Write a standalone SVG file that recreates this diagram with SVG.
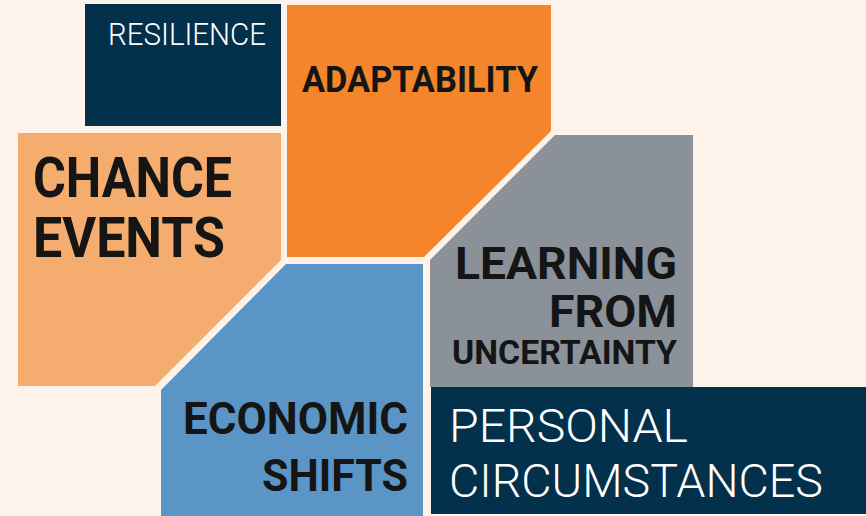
<svg xmlns="http://www.w3.org/2000/svg" width="866" height="516" viewBox="0 0 866 516">
<style>
.b{font-family:Roboto,"Liberation Sans",sans-serif;font-weight:700;fill:#151515}
.l{font-family:Roboto,"Liberation Sans",sans-serif;font-weight:300;fill:#ffffff}
</style>
<rect width="866" height="516" fill="#fdf3ea"/>
<g id="resilience">
<rect x="85" y="4" width="196" height="122" fill="#03304a"/>
<text class="l" x="108" y="45" font-size="31" textLength="158" lengthAdjust="spacingAndGlyphs">RESILIENCE</text>
</g>
<g id="adaptability">
<polygon points="287,5 551,5 551,131 424,257 287,257" fill="#f5852a"/>
<text class="b" x="302" y="92" font-size="36" textLength="236" lengthAdjust="spacingAndGlyphs">ADAPTABILITY</text>
</g>
<g id="chance">
<polygon points="18,133 281,133 281,260 155,386 18,386" fill="#f4ad6e"/>
<text class="b" x="33" y="197" font-size="55" textLength="199" lengthAdjust="spacingAndGlyphs">CHANCE</text>
<text class="b" x="33" y="257" font-size="55" textLength="192" lengthAdjust="spacingAndGlyphs">EVENTS</text>
</g>
<g id="economic">
<polygon points="286,264 423,264 423,516 161,516 161,390" fill="#5b95c6"/>
<text class="b" x="183" y="434" font-size="45" textLength="225" lengthAdjust="spacingAndGlyphs">ECONOMIC</text>
<text class="b" x="262" y="491" font-size="45" textLength="146" lengthAdjust="spacingAndGlyphs">SHIFTS</text>
</g>
<g id="learning">
<polygon points="555,135 693,135 693,387 430,387 430,260" fill="#8a9199"/>
<text class="b" x="455" y="279" font-size="45" textLength="222" lengthAdjust="spacingAndGlyphs">LEARNING</text>
<text class="b" x="549" y="327" font-size="45" textLength="128" lengthAdjust="spacingAndGlyphs">FROM</text>
<text class="b" x="452" y="364" font-size="33" textLength="225" lengthAdjust="spacingAndGlyphs">UNCERTAINTY</text>
</g>
<g id="personal">
<rect x="431" y="387" width="435" height="127" fill="#03304a"/>
<text class="l" x="449" y="442" font-size="47" textLength="239" lengthAdjust="spacingAndGlyphs">PERSONAL</text>
<text class="l" x="449" y="497" font-size="47" textLength="374" lengthAdjust="spacingAndGlyphs">CIRCUMSTANCES</text>
</g>
<g id="connectors"/>
</svg>
